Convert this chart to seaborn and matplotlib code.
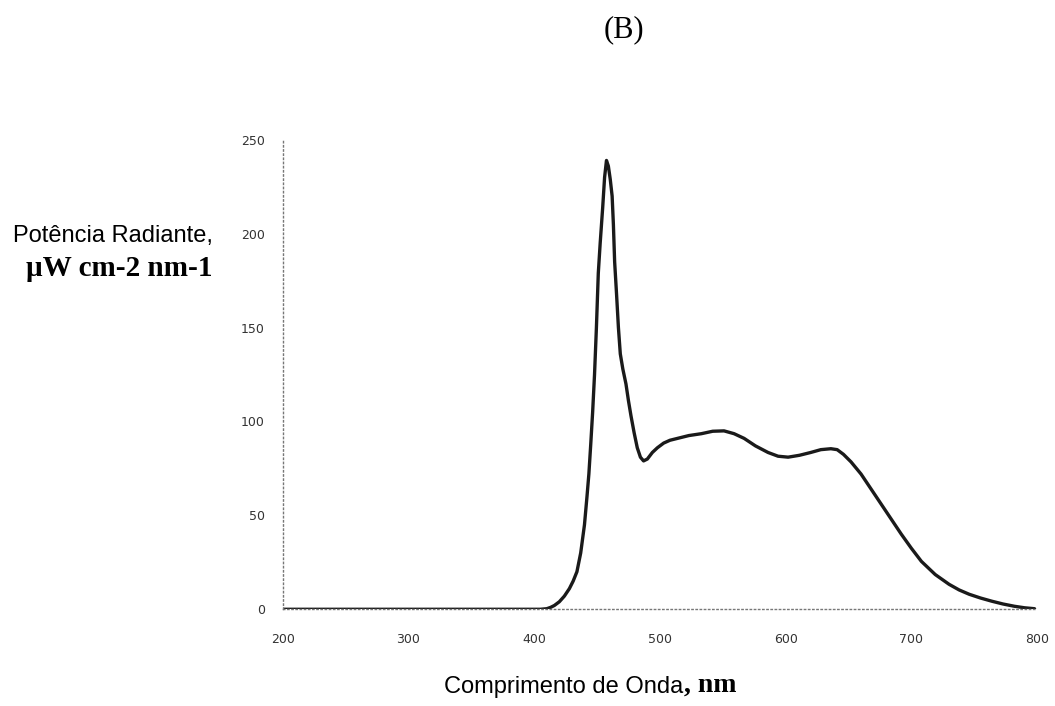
import numpy as np
import pandas as pd
import matplotlib
matplotlib.use('Agg')
import matplotlib.pyplot as plt
import seaborn as sns

# spectrum
wavelength = [200, 250, 300, 350, 400, 405, 410, 413, 416, 420, 424, 428, 431, 434,
              437, 440, 442, 443.5, 445, 446.5, 448, 449.5, 451, 452.5, 454.5,
              456, 457.5, 459, 460.5, 462, 463, 464, 465.5, 467, 468.5, 470.5,
              473, 475, 477, 479.5, 482, 484.5, 487, 490, 494, 498, 503, 508,
              514, 523, 533, 542, 551, 559, 567, 576, 586, 594, 602, 611, 620,
              628, 636, 641, 646, 652, 660, 668, 676, 684, 692, 700, 708, 719,
              730, 738, 746, 755, 764, 773, 782, 790, 798]
power = [0, 0, 0, 0, 0, 0, 0.3, 1, 2, 4, 7, 11, 15, 20,
         30, 45, 60, 72, 88, 105, 125, 150, 179, 195, 214,
         230, 239, 236, 229, 220, 205, 185, 168, 150, 136, 128,
         120, 111, 103, 94, 86, 81, 79, 80, 83.5, 86, 88.5, 90,
         91, 92.5, 93.5, 94.8, 95, 93.5, 91, 87, 83.5, 81.5, 81, 82, 83.5,
         85, 85.5, 85, 82.5, 78.5, 72, 64, 56, 48, 40, 32.5, 25.5, 18.5,
         13.3, 10.3, 8, 6, 4.3, 2.8, 1.6, 0.8, 0.3]

x_ticks = [200, 300, 400, 500, 600, 700, 800]
y_ticks = [0, 50, 100, 150, 200, 250]

df = pd.DataFrame({'wavelength': wavelength, 'power': power})

sns.set_style('white')
plt.rcParams['font.family'] = ['DejaVu Sans']
plt.rcParams['text.color'] = 'black'

fig = plt.figure(figsize=(10.55, 7.06), dpi=100)
ax = fig.add_axes([0.268, 0.137, 0.715, 0.665])

sns.lineplot(data=df, x='wavelength', y='power', ax=ax, color='#1a1a1a', linewidth=2.4)

ax.set_xlim(200, 800)
ax.set_ylim(0, 250)
ax.set_xticks(x_ticks)
ax.set_yticks(y_ticks)
ax.tick_params(axis='both', labelsize=9, colors='#555555', length=3, width=0.8,
               labelcolor='#333333')
ax.tick_params(axis='x', pad=14)
ax.tick_params(axis='y', pad=10)
ax.set_xlabel('')
ax.set_ylabel('')

for side in ['top', 'right']:
    ax.spines[side].set_visible(False)
for side in ['left', 'bottom']:
    ax.spines[side].set_linestyle((0, (1, 2)))
    ax.spines[side].set_color('#777777')
    ax.spines[side].set_linewidth(1.0)

# panel letter and axis titles
fig.text(624 / 1055, 1 - 30 / 706, '(B)', ha='center', va='center',
         family='Liberation Serif', fontsize=22, color='black')
fig.text(213 / 1055, 1 - 236 / 706, 'Potência Radiante,', ha='right', va='center',
         family='Liberation Sans', fontsize=17, color='black')
fig.text(119 / 1055, 1 - 268 / 706, 'µW cm-2 nm-1', ha='center', va='center',
         family='Liberation Serif', fontweight='bold', fontsize=21, color='black')
fig.text(683 / 1055, 1 - 687 / 706, 'Comprimento de Onda', ha='right', va='center',
         family='Liberation Sans', fontsize=17, color='black')
fig.text(684 / 1055, 1 - 685 / 706, ', nm', ha='left', va='center',
         family='Liberation Serif', fontweight='bold', fontsize=20, color='black')

fig.savefig('out.png', dpi=100, facecolor='white')
